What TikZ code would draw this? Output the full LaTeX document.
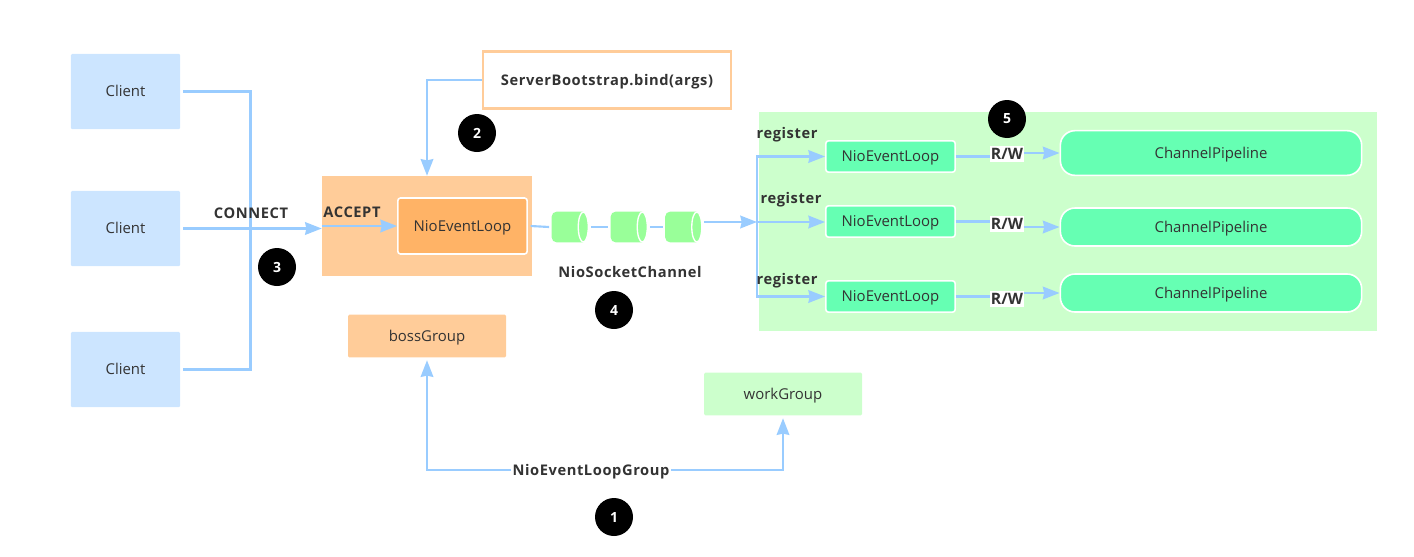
\documentclass[tikz,border=0pt]{standalone}
\usepackage{fontspec}
\setmainfont{Open Sans}
\usetikzlibrary{arrows.meta,positioning,shapes.geometric,calc}
\definecolor{clientc}{HTML}{CCE5FF}
\definecolor{acceptc}{HTML}{FFCC99}
\definecolor{bossc}{HTML}{FFB366}
\definecolor{workc}{HTML}{CCFFCC}
\definecolor{loopc}{HTML}{66FFB3}
\definecolor{chanc}{HTML}{99FF99}
\definecolor{linkc}{HTML}{99CCFF}
\definecolor{inkc}{HTML}{333333}
\newcommand{\tagfont}{\fontsize{11}{12}\selectfont\bfseries\addfontfeature{LetterSpace=4}}
\tikzset{
  plain/.style={inner sep=0pt, text=inkc, text height=8pt, text depth=0pt, font=\fontsize{11.2}{12}\selectfont},
  tag/.style={inner sep=0pt, text=inkc, text height=8pt, text depth=0pt, font=\tagfont},
  client/.style={plain, rectangle, rounded corners=1pt, fill=clientc, minimum width=82pt, minimum height=56.5pt},
  group/.style={plain, rectangle, rounded corners=1pt, minimum width=118.5pt, minimum height=32pt},
  evloop/.style={plain, rectangle, rounded corners=2pt, fill=loopc, draw=white, line width=1.2pt, minimum width=97pt, minimum height=23.5pt},
  pipe/.style={plain, rectangle, rounded corners=11pt, fill=loopc, draw=white, line width=1.2pt, minimum width=226pt},
  chan/.style={rectangle, inner sep=0pt, minimum width=27pt, minimum height=22.5pt},
  badge/.style={circle, fill=black, text=white, inner sep=0pt, minimum size=28.5pt, font=\fontsize{10.5}{12}\selectfont\bfseries},
  flow/.style={draw=linkc, line width=1.6pt},
  link/.style={flow, -{Stealth[length=12.5pt, width=9.5pt, inset=1pt]}},
  rw/.style={inner xsep=0.4pt, inner ysep=1.5pt, fill=white, text=inkc, text height=8.5pt, text depth=0pt, font=\fontsize{11.8}{12}\selectfont\bfseries},
}
% drum drawn inside a chan node
\newcommand{\chandrum}[1]{%
  \fill[chanc] ($(#1.north east)+(-5,0)$) [rounded corners=3.5pt] -- (#1.north west) -- (#1.south west)
    [sharp corners] -- ($(#1.south east)+(-5,0)$) -- cycle;
  \draw[white, line width=1pt, fill=chanc] ($(#1.east)+(-5,0)$) ellipse [x radius=3.75pt, y radius=11.25pt];}
\begin{document}
\begin{tikzpicture}[x=0.75pt, y=-0.75pt]
  \useasboundingbox (0,0) rectangle (1414,557);
  % clients
  \node[client] (client1) at (125.5,91.5) {Client};
  \node[client] (client2) at (125.5,228.5) {Client};
  \node[client] (client3) at (125.5,369.5) {Client};
  % boss side
  \node[rectangle, fill=acceptc, minimum width=157.5pt, minimum height=75pt, inner sep=0pt] (accept) at (427,226) {};
  \node[plain, rectangle, rounded corners=2pt, fill=bossc, draw=white, line width=1.2pt, minimum width=97pt, minimum height=42pt] (bossloop) at (462.5,226) {NioEventLoop};
  \node[tag] (acceptlbl) at (352,212) {ACCEPT};
  \node[tag, rectangle, draw=acceptc, line width=2pt, minimum width=186pt, minimum height=43pt] (bind) at (607,80) {ServerBootstrap.bind(args)};
  \node[group, fill=acceptc] (boss) at (427,336) {bossGroup};
  \node[group, fill=workc] (work) at (783,394) {workGroup};
  % worker side
  \node[rectangle, fill=workc, minimum width=463.5pt, minimum height=164pt, inner sep=0pt] (panel) at (1068,221.5) {};
  \node[evloop] (loop1) at (890.5,156.5) {NioEventLoop};
  \node[evloop] (loop2) at (890.5,221.5) {NioEventLoop};
  \node[evloop] (loop3) at (890.5,296.5) {NioEventLoop};
  \node[pipe, minimum height=33.5pt] (pipe1) at (1211,153) {ChannelPipeline};
  \node[pipe, minimum height=28.5pt] (pipe2) at (1211,227) {ChannelPipeline};
  \node[pipe, minimum height=28.5pt] (pipe3) at (1211,293) {ChannelPipeline};
  % channels
  \node[chan] (chan1) at (570,227) {};
  \node[chan] (chan2) at (629,227) {};
  \node[chan] (chan3) at (683.5,227) {};
  \foreach \i in {1,2,3} \chandrum{chan\i};
  % links
  \coordinate (bus) at (250.5,228);
  \coordinate (fork) at (757,222);
  \draw[flow] ([xshift=2pt]client1.east) -| (bus);
  \draw[flow] ([xshift=2pt]client3.east) -| (bus);
  \draw[link] ([xshift=2pt]client2.east) -- (accept.west |- client2.east);
  \draw[link] (accept.west |- bossloop.west) -- (bossloop.west);
  \draw[link] (bind.west) -| (accept.north -| boss.north);
  \draw[flow] ([xshift=2pt]bossloop.east) -- ([xshift=-2pt]chan1.west);
  \draw[flow] ([xshift=2pt]chan1.east) -- ([xshift=-2pt]chan2.west);
  \draw[flow] ([xshift=2pt]chan2.east) -- ([xshift=-2pt]chan3.west);
  \draw[link] ([xshift=2pt]chan3.east |- fork) -- (fork);
  \draw[link] (fork) |- (loop1.west);
  \draw[link] (fork) -- (fork -| loop2.west);
  \draw[link] (fork) |- (loop3.west);
  \node[rw] (rw1) at (1007,154) {R/W};
  \node[rw] (rw2) at (1007,224) {R/W};
  \node[rw] (rw3) at (1007,299) {R/W};
  \foreach \i in {1,2,3}{
    \draw[flow] (loop\i.east) -- (loop\i.east -| rw\i.west);
    \draw[link] (rw\i.east |- pipe\i.west) -- (pipe\i.west);
  }
  \node[tag, fill=white, inner xsep=1pt, inner ysep=1.5pt] (grouplbl) at (591,470) {NioEventLoopGroup};
  \draw[link] (grouplbl.west) -| ([yshift=-2pt]boss.south);
  \draw[link] (grouplbl.east) -| ([yshift=-2pt]work.south);
  % labels
  \node[tag] (connect) at (251,213) {CONNECT};
  \node[tag] (chanlbl) at (630,272) {NioSocketChannel};
  \node[tag] (reg1) at (787,133) {register};
  \node[tag] (reg2) at (791,198) {register};
  \node[tag] (reg3) at (787,279) {register};
  % steps
  \node[badge] (b1) at (614,517) {1};
  \node[badge] (b2) at (477,133) {2};
  \node[badge] (b3) at (277,267) {3};
  \node[badge] (b4) at (614,310) {4};
  \node[badge] (b5) at (1007,119) {5};
\end{tikzpicture}
\end{document}
